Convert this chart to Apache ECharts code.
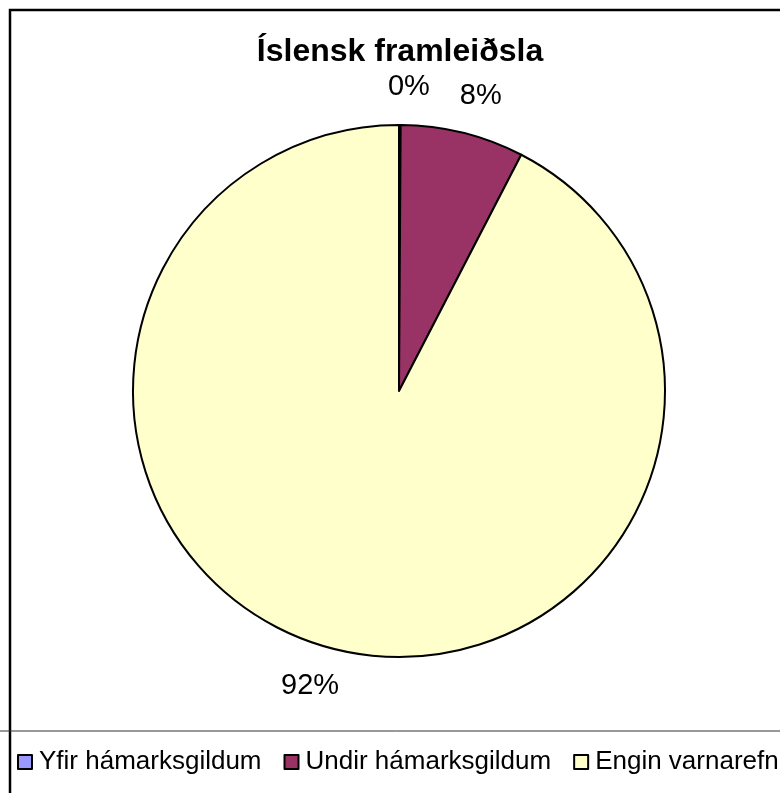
<!DOCTYPE html>
<html>
<head>
<meta charset="utf-8">
<script src="https://cdn.jsdelivr.net/npm/echarts@6/dist/echarts.min.js"></script>
<style>
html,body{margin:0;padding:0;background:#fff;overflow:hidden;width:780px;height:793px;}
#chart{width:820px;height:830px;}
</style>
</head>
<body>
<div id="chart"></div>
<script>
const titleText = 'Íslensk framleiðsla';
const categories = ['Yfir hámarksgildum', 'Undir hámarksgildum', 'Engin varnarefni'];
const values = [0.1, 7.5, 92.4];
const colors = ['#9999FF', '#993366', '#FFFFCC'];

const FONT = '"Liberation Sans", Arial, sans-serif';
const chart = echarts.init(document.getElementById('chart'), null, {renderer: 'canvas'});

const data = categories.map((name, i) => ({
  name: name,
  value: values[i],
  itemStyle: {color: colors[i]}
}));

chart.setOption({
  animation: false,
  backgroundColor: '#fff',
  graphic: [{
    type: 'rect',
    shape: {x: 10, y: 10, width: 800, height: 810},
    style: {fill: 'none', stroke: '#000', lineWidth: 2.5},
    z: -1
  }],
  title: {
    text: titleText,
    left: 395,
    textAlign: 'center',
    top: 31,
    textStyle: {fontFamily: FONT, fontSize: 32, fontWeight: 'bold', color: '#000'}
  },
  legend: {
    data: categories,
    orient: 'horizontal',
    left: -3,
    top: 731,
    padding: [18, 10, 40, 20],
    borderColor: '#333',
    borderWidth: 1,
    itemWidth: 14,
    itemHeight: 14,
    itemGap: 22,
    icon: 'rect',
    itemStyle: {borderColor: '#000', borderWidth: 2},
    textStyle: {fontFamily: FONT, fontSize: 26, color: '#000', padding: [0, 0, 0, 2]}
  },
  series: [{
    type: 'pie',
    center: [399, 391],
    radius: 266,
    startAngle: 90,
    clockwise: true,
    avoidLabelOverlap: false,
    minShowLabelAngle: 0,
    percentPrecision: 0,
    itemStyle: {borderColor: '#000', borderWidth: 2},
    emphasis: {disabled: true},
    label: {
      show: true,
      position: 'outside',
      formatter: '{d}%',
      distanceToLabelLine: 0,
      fontFamily: FONT,
      fontSize: 29,
      color: '#000'
    },
    labelLine: {show: false, length: 38, length2: -12},
    data: data
  }]
});
</script>
</body>
</html>
